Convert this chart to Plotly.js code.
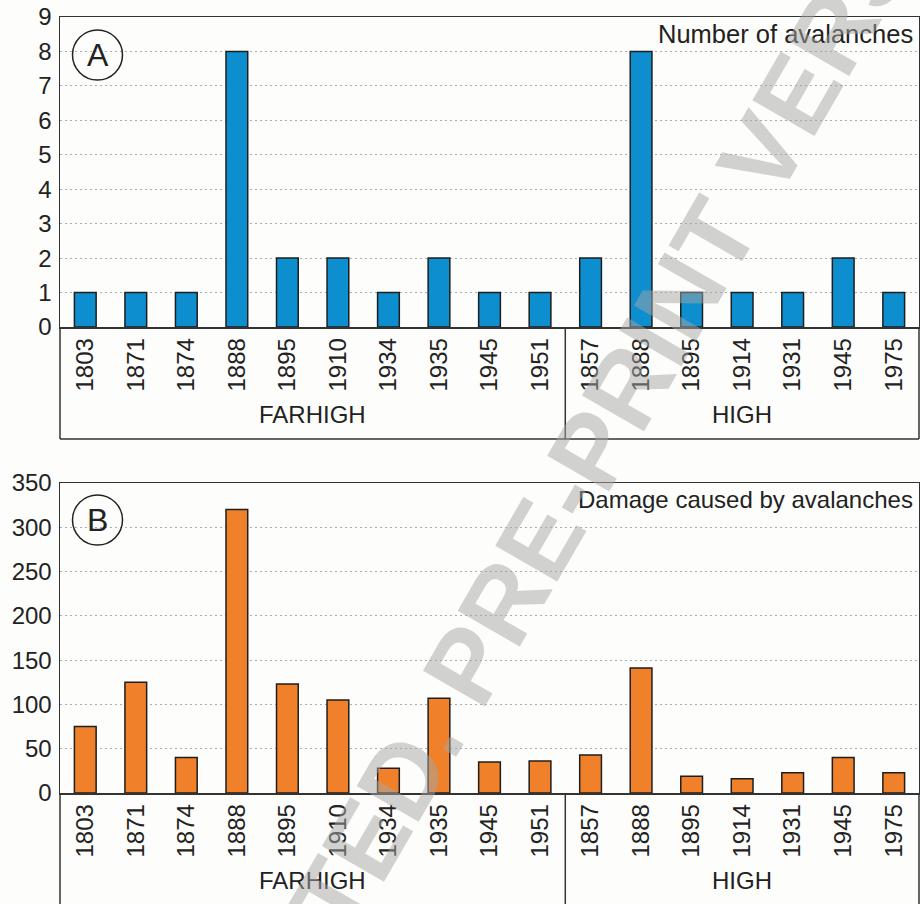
<!DOCTYPE html>
<html><head><meta charset="utf-8">
<script src="https://cdn.plot.ly/plotly-3.0.1.min.js"></script>
<style>html,body{margin:0;padding:0;background:#fdfdfb}</style>
</head><body><div id="chart" style="width:920px;height:904px"></div>
<script>
// ---- data ----
const years = ['1803','1871','1874','1888','1895','1910','1934','1935','1945','1951',
               '1857','1888','1895','1914','1931','1945','1975'];
const groups = ['FARHIGH','FARHIGH','FARHIGH','FARHIGH','FARHIGH','FARHIGH','FARHIGH','FARHIGH','FARHIGH','FARHIGH',
                'HIGH','HIGH','HIGH','HIGH','HIGH','HIGH','HIGH'];
const avalancheCount = [1,1,1,8,2,2,1,2,1,1, 2,8,1,1,1,2,1];
const damage = [75,125,40,320,123,105,28,107,35,36, 43,141,19,16,23,40,23];
const titleA = 'Number of avalanches';
const titleB = 'Damage caused by avalanches';
const watermark = 'ACCEPTED. PRE-PRINT VERSION';

// ---- helpers ----
const W = 920, H = 904, ML = 60, MR = 1, MT = 17, MB = 0;
const PW = W - ML - MR, PH = H - MT - MB;
const px = x => (x - ML) / PW;
const py = y => (H - MB - y) / PH;

const idx = years.map((_, i) => i);
const groupNames = [...new Set(groups)];
const groupInfo = groupNames.map(g => {
  const first = groups.indexOf(g), last = groups.lastIndexOf(g);
  return {name: g, center: (first + last) / 2, last};
});

const FONT = 'Liberation Sans, Arial, sans-serif';
const TXT = '#222';
const LINE = '#333';

const barOpts = (y, color, xa, ya) => ({
  type: 'bar', x: idx, y: y, xaxis: xa, yaxis: ya,
  marker: {color: color, line: {color: '#1e1e1e', width: 1.5}},
  hoverinfo: 'skip'
});

const data = [
  barOpts(avalancheCount, '#0d8fcf', 'x', 'y'),
  barOpts(damage, '#f0812a', 'x2', 'y2')
];

const xBase = {
  range: [-0.5, years.length - 0.5], tickmode: 'array', tickvals: idx, ticktext: years,
  tickangle: -90, tickfont: {size: 24, color: TXT, family: FONT},
  showgrid: false, zeroline: false, showline: true, mirror: true,
  linecolor: LINE, linewidth: 1.5, ticks: '', fixedrange: true
};
const yBase = {
  showgrid: true, gridcolor: '#a3aebf', griddash: '2px,3px', gridwidth: 1.2,
  zeroline: false, showline: true, mirror: true, linecolor: LINE, linewidth: 1.5,
  ticks: '', tickfont: {size: 24, color: TXT, family: FONT}, ticklabelstandoff: 2,
  fixedrange: true
};

const aTop = py(17), aBot = py(327), aBox = py(439);
const bTop = py(483), bBot = py(793), bBox = 0;

const shapes = [];
function catBox(yTop, yBottom, xref, withBottom) {
  const ln = {color: LINE, width: 1.5};
  shapes.push({type: 'line', xref: 'paper', yref: 'paper', x0: 0, x1: 0, y0: yTop, y1: yBottom, line: ln});
  shapes.push({type: 'line', xref: 'paper', yref: 'paper', x0: 1, x1: 1, y0: yTop, y1: yBottom, line: ln});
  if (withBottom) shapes.push({type: 'line', xref: 'paper', yref: 'paper', x0: 0, x1: 1, y0: yBottom, y1: yBottom, line: ln});
  groupInfo.slice(0, -1).forEach(g => {
    shapes.push({type: 'line', xref: xref, yref: 'paper', x0: g.last + 0.5, x1: g.last + 0.5, y0: yTop, y1: yBottom, line: {color: LINE, width: 1.5}});
  });
}
catBox(aBot, aBox, 'x', true);
catBox(bBot, bBox, 'x2', false);

function circle(cx, cy) {
  shapes.push({type: 'circle', xref: 'paper', yref: 'paper', xsizemode: 'pixel', ysizemode: 'pixel',
    xanchor: px(cx), yanchor: py(cy), x0: -25, x1: 25, y0: -25, y1: 25,
    line: {color: '#222', width: 1.5}});
}
circle(97.5, 55);
circle(97.5, 520);

const annotations = [];
function ann(text, x, y, xanchor, size, extra) {
  annotations.push(Object.assign({text: text, xref: 'paper', yref: 'paper', x: x, y: y,
    xanchor: xanchor, yanchor: 'middle', showarrow: false,
    font: {size: size, color: TXT, family: FONT}}, extra || {}));
}
ann('A', px(97.5), py(55), 'center', 32);
ann('B', px(97.5), py(520), 'center', 32);
ann(titleA, px(915), py(34), 'right', 25.5);
ann(titleB, px(915), py(500), 'right', 24);
groupInfo.forEach(g => {
  annotations.push({text: g.name, xref: 'x', yref: 'paper', x: g.center, y: py(414), showarrow: false,
    xanchor: 'center', yanchor: 'middle', font: {size: 24, color: TXT, family: FONT}});
  annotations.push({text: g.name, xref: 'x2', yref: 'paper', x: g.center, y: py(880), showarrow: false,
    xanchor: 'center', yanchor: 'middle', font: {size: 24, color: TXT, family: FONT}});
});
annotations.push({text: '<b>' + watermark + '</b>', xref: 'paper', yref: 'paper', x: px(557), y: py(510),
  xanchor: 'center', yanchor: 'middle', showarrow: false, textangle: -60,
  font: {size: 104, color: 'rgba(165,165,165,0.5)', family: FONT}});

const layout = {
  width: W, height: H, margin: {l: ML, r: MR, t: MT, b: MB},
  paper_bgcolor: '#fdfdfb', plot_bgcolor: '#fdfdfb', showlegend: false,
  bargap: 0.57,
  xaxis: Object.assign({}, xBase, {domain: [0, 1], anchor: 'y'}),
  yaxis: Object.assign({}, yBase, {domain: [aBot, aTop], range: [0, 9], dtick: 1, anchor: 'x'}),
  xaxis2: Object.assign({}, xBase, {domain: [0, 1], anchor: 'y2'}),
  yaxis2: Object.assign({}, yBase, {domain: [bBot, bTop], range: [0, 350], dtick: 50, anchor: 'x2'}),
  shapes: shapes, annotations: annotations
};

Plotly.newPlot('chart', data, layout, {displayModeBar: false, staticPlot: true});
</script>
</body></html>
